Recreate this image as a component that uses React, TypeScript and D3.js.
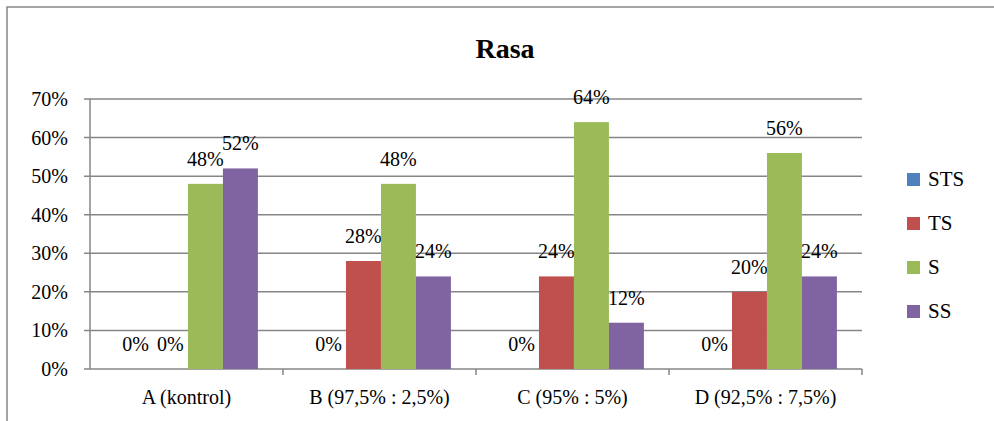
import React from "react";
import * as d3 from "d3";

const categories = ["A (kontrol)", "B (97,5% : 2,5%)", "C (95% : 5%)", "D (92,5% : 7,5%)"];
const seriesNames = ["STS", "TS", "S", "SS"];
const STS = [0, 0, 0, 0];
const TS = [0, 0.28, 0.24, 0.2];
const S = [0.48, 0.48, 0.64, 0.56];
const SS = [0.52, 0.24, 0.12, 0.24];
const colors = ["#4F81BD", "#C0504D", "#9BBB59", "#8064A2"];
const yTicks = [0, 0.1, 0.2, 0.3, 0.4, 0.5, 0.6, 0.7];
const title = "Rasa";

export default function App() {
  const W = 994, H = 421;
  const left = 90, right = 862, top = 99, bottom = 369;
  const values = [STS, TS, S, SS];
  const x0 = d3.scaleBand().domain(categories).range([left, right]).padding(0);
  const bw = x0.bandwidth();
  const x1 = d3.scaleBand().domain(seriesNames).range([bw * 0.145, bw * 0.87]).padding(0);
  const y = d3.scaleLinear().domain([0, 0.7]).range([bottom, top]);
  const fmt = (v) => `${Math.round(v * 100)}%`;

  return (
    <svg width={W} height={H} style={{ position: "absolute", left: 0, top: 0, background: "#fff" }}>
      <rect x={7} y={7} width={990} height={420} fill="#fff" stroke="#868686" strokeWidth={1.5} />
      <text x={505} y={58} textAnchor="middle" fontSize={28} fontWeight="bold" style={{ fontFamily: `"Liberation Serif"` }}>{title}</text>
      {yTicks.map((t) => (
        <g key={t}>
          <line x1={left - 6} x2={right} y1={y(t)} y2={y(t)} stroke="#868686" strokeWidth={1.5} />
          <text x={68} y={y(t) + 7} textAnchor="end" fontSize={20} style={{ fontFamily: `"Liberation Serif"` }}>{fmt(t)}</text>
        </g>
      ))}
      <line x1={left} x2={left} y1={top} y2={bottom} stroke="#868686" strokeWidth={1.5} />
      {categories.map((c, i) => (
        <g key={c}>
          <line x1={x0(c) + bw} x2={x0(c) + bw} y1={bottom} y2={bottom + 6} stroke="#868686" strokeWidth={1.5} />
          <text x={x0(c) + bw / 2} y={404} textAnchor="middle" fontSize={20} style={{ fontFamily: `"Liberation Serif"` }}>{c}</text>
          {seriesNames.map((s, j) => {
            const v = values[j][i];
            const bx = x0(c) + x1(s);
            return (
              <g key={s}>
                {v > 0 && (
                  <rect x={bx} y={y(v)} width={x1.bandwidth()} height={bottom - y(v)} fill={colors[j]} />
                )}
                <text x={bx + x1.bandwidth() / 2} y={y(v) - 18} textAnchor="middle" fontSize={20} style={{ fontFamily: `"Liberation Serif"` }}>{fmt(v)}</text>
              </g>
            );
          })}
        </g>
      ))}
      {seriesNames.map((s, j) => (
        <g key={s} transform={`translate(907, ${179 + j * 44})`}>
          <rect x={0} y={-6} width={13} height={13} fill={colors[j]} />
          <text x={21} y={7} fontSize={21} style={{ fontFamily: `"Liberation Serif"` }}>{s}</text>
        </g>
      ))}
    </svg>
  );
}
